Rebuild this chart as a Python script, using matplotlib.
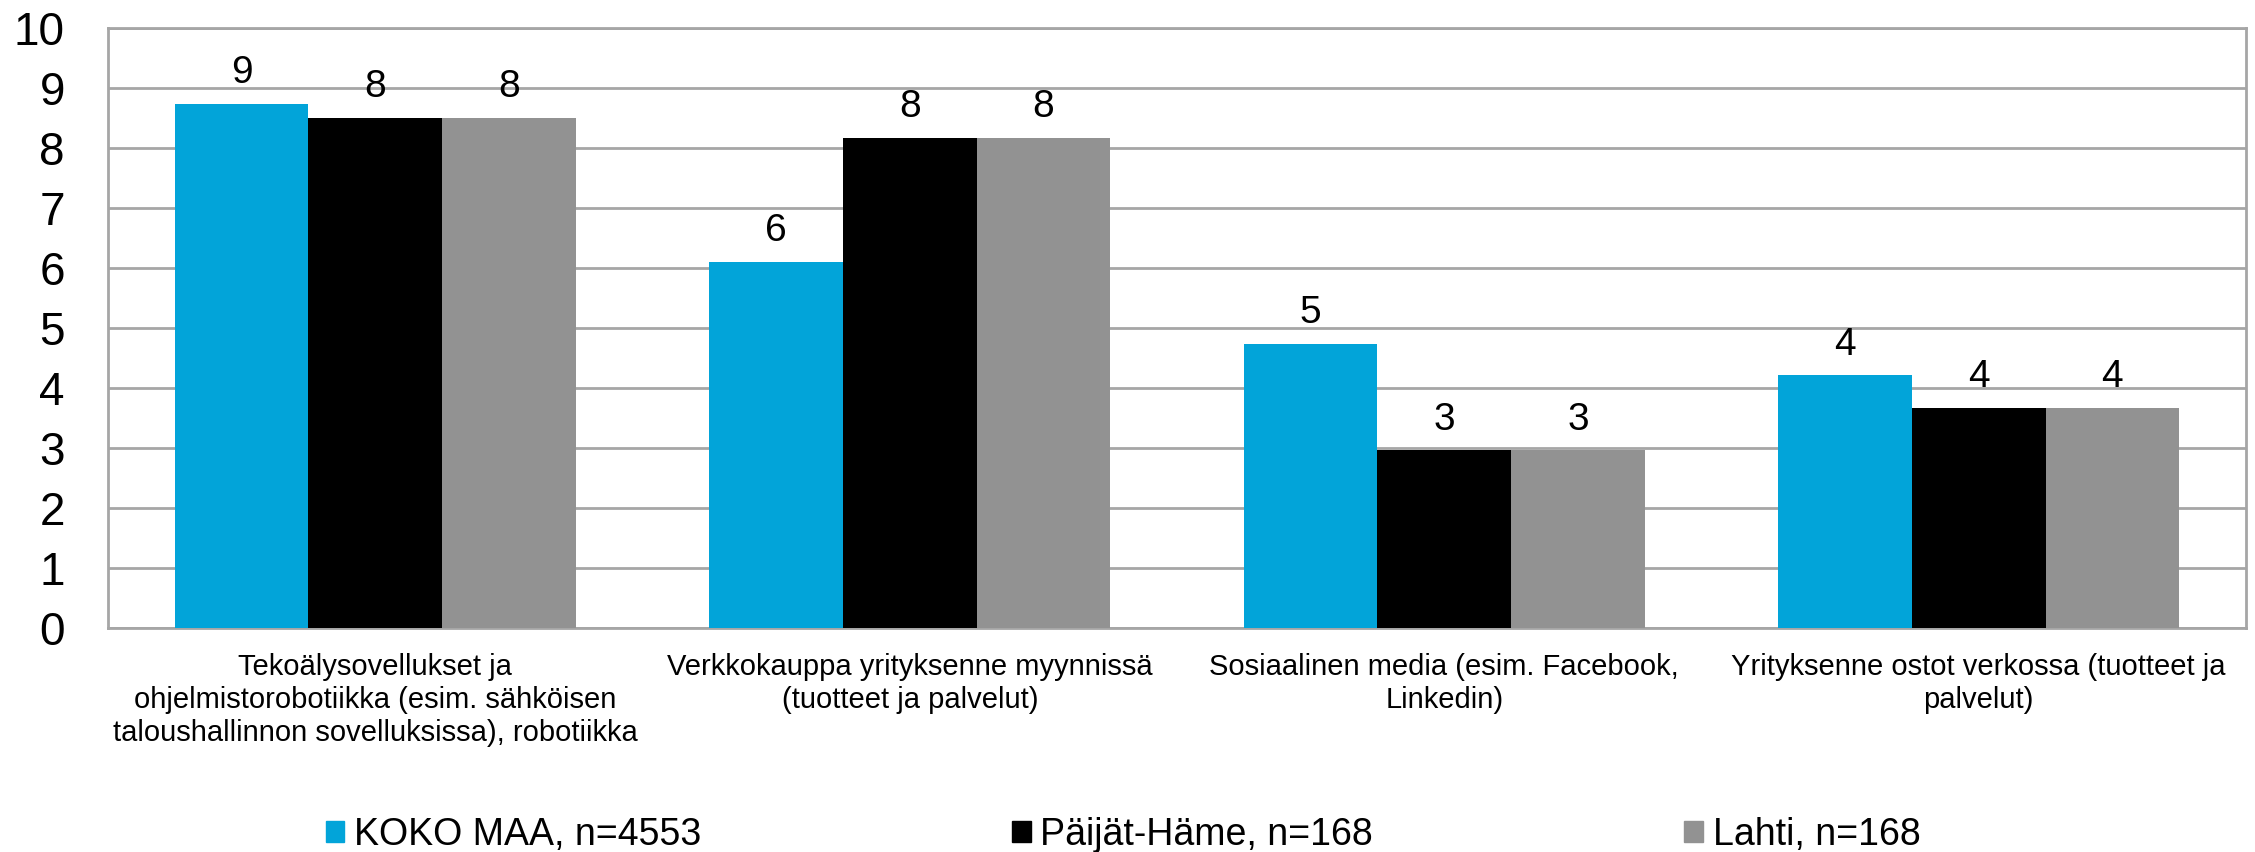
import numpy as np
import matplotlib
matplotlib.use('Agg')
import matplotlib.pyplot as plt
from matplotlib.patches import Patch

plt.rcParams['font.family'] = ['Liberation Sans', 'DejaVu Sans']

# Data
categories = ['Tekoälysovellukset ja\nohjelmistorobotiikka (esim. sähköisen\ntaloushallinnon sovelluksissa), robotiikka',
              'Verkkokauppa yrityksenne myynnissä\n(tuotteet ja palvelut)',
              'Sosiaalinen media (esim. Facebook,\nLinkedin)',
              'Yrityksenne ostot verkossa (tuotteet ja\npalvelut)']
series_names = ['KOKO MAA, n=4553', 'Päijät-Häme, n=168', 'Lahti, n=168']
koko_maa = [8.73, 6.1, 4.74, 4.21]
paijat_hame = [8.5, 8.17, 2.96, 3.67]
lahti = [8.5, 8.17, 2.96, 3.67]
colors = ['#02a4d9', '#000000', '#929292']

fig = plt.figure(figsize=(22.55, 8.52), dpi=100)
ax = fig.add_axes([0.0479, 0.263, 0.9481, 0.704])

x = np.arange(len(categories))
w = 0.25
for i, vals in enumerate([koko_maa, paijat_hame, lahti]):
    pos = x + (i - 1) * w
    ax.bar(pos, vals, width=w, color=colors[i], zorder=3)
    for p, v in zip(pos, vals):
        ax.annotate(f'{v:.0f}', (p, v), xytext=(0, 15), textcoords='offset points',
                    ha='center', va='baseline', fontsize=28)

ax.set_xlim(-0.5, len(categories) - 0.5)
ax.set_ylim(0, 10)
ax.set_yticks(range(0, 11))
ax.grid(axis='y', color='#a6a6a6', linewidth=2, zorder=0)
for s in ax.spines.values():
    s.set_color('#a6a6a6')
    s.set_linewidth(2)
ax.tick_params(axis='y', length=0, pad=31, labelsize=33)
ax.tick_params(axis='x', length=0, pad=18, labelsize=21)
ax.set_xticks(x)
ax.set_xticklabels(categories, linespacing=1.23)

handles = [Patch(color=c) for c in colors]
fig.legend(handles, series_names, loc='center', bbox_to_anchor=(0.498, 0.02), ncol=3,
           frameon=False, fontsize=27, handlelength=0.5, handleheight=0.5,
           handletextpad=0.25, columnspacing=8.3)

fig.savefig('out.png', dpi=100)
